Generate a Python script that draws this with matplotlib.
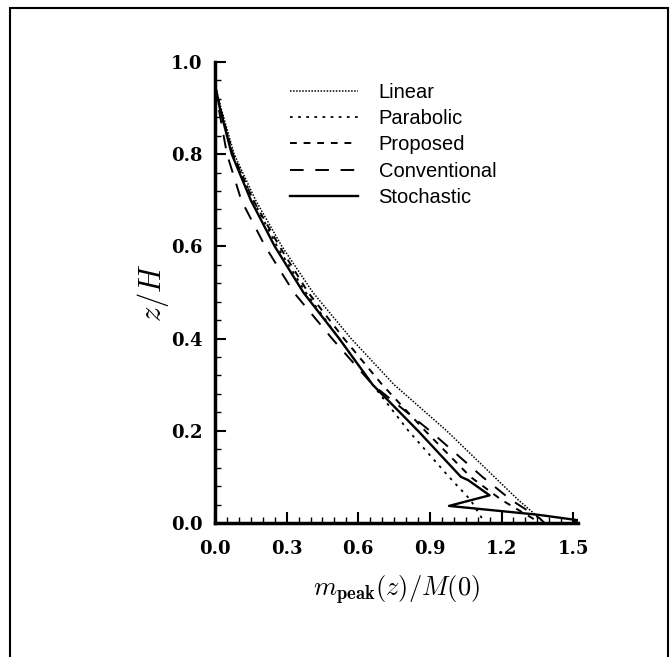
import numpy as np
import matplotlib
matplotlib.use("Agg")
import matplotlib.pyplot as plt
from matplotlib.ticker import MultipleLocator, FormatStrFormatter
from matplotlib.patches import Rectangle

plt.rcParams['mathtext.fontset'] = 'cm'

# curves: (m_peak/M(0), z/H)
linear_x = [0.0, 0.025, 0.08, 0.17, 0.28, 0.41, 0.57, 0.75, 0.97, 1.17, 1.27, 1.36, 1.38]
linear_z = [0.95, 0.90, 0.80, 0.70, 0.60, 0.50, 0.40, 0.30, 0.20, 0.10, 0.05, 0.01, 0.0]

parab_x = [0.0, 0.022, 0.075, 0.16, 0.26, 0.38, 0.52, 0.66, 0.81, 0.98, 1.07, 1.13]
parab_z = [0.95, 0.90, 0.80, 0.70, 0.60, 0.50, 0.40, 0.30, 0.20, 0.10, 0.05, 0.0]

prop_x = [0.0, 0.022, 0.075, 0.16, 0.27, 0.39, 0.54, 0.70, 0.88, 1.07, 1.20, 1.33, 1.36]
prop_z = [0.95, 0.90, 0.80, 0.70, 0.60, 0.50, 0.40, 0.30, 0.20, 0.10, 0.05, 0.01, 0.0]

conv_x = [0.0, 0.015, 0.05, 0.11, 0.21, 0.33, 0.49, 0.66, 0.90, 1.12, 1.24, 1.36, 1.38]
conv_z = [0.95, 0.90, 0.80, 0.70, 0.60, 0.50, 0.40, 0.30, 0.20, 0.10, 0.05, 0.01, 0.0]

stoch_x = [0.0, 0.02, 0.07, 0.15, 0.25, 0.37, 0.52, 0.66, 0.85, 1.03, 1.06, 1.15, 0.98, 1.35, 1.52, 1.50]
stoch_z = [0.95, 0.90, 0.80, 0.70, 0.60, 0.50, 0.40, 0.30, 0.20, 0.10, 0.093, 0.06, 0.037, 0.018, 0.006, 0.0]

labels = ['Linear', 'Parabolic', 'Proposed', 'Conventional', 'Stochastic']

fig = plt.figure(figsize=(6.72, 6.57), dpi=100)
ax = fig.add_axes([0.320, 0.204, 0.540, 0.7017])

ax.plot(linear_x, linear_z, color='black', lw=1.1, ls=(0, (1, 1)), label=labels[0])
ax.plot(parab_x, parab_z, color='black', lw=1.3, ls=(0, (1.5, 3)), label=labels[1])
ax.plot(prop_x, prop_z, color='black', lw=1.4, ls=(0, (3.5, 3.5)), label=labels[2])
ax.plot(conv_x, conv_z, color='black', lw=1.4, ls=(0, (7, 6)), label=labels[3])
ax.plot(stoch_x, stoch_z, color='black', lw=1.7, ls='-', label=labels[4])

ax.set_xlim(0, 1.52)
ax.set_ylim(0, 1.0)
for s in ['top', 'right']:
    ax.spines[s].set_visible(False)
for s in ['left', 'bottom']:
    ax.spines[s].set_linewidth(2.5)

ax.xaxis.set_major_locator(MultipleLocator(0.3))
ax.xaxis.set_minor_locator(MultipleLocator(0.05))
ax.yaxis.set_major_locator(MultipleLocator(0.2))
ax.yaxis.set_minor_locator(MultipleLocator(0.04))
ax.xaxis.set_major_formatter(FormatStrFormatter('%.1f'))
ax.yaxis.set_major_formatter(FormatStrFormatter('%.1f'))
ax.tick_params(which='major', direction='in', length=8, width=1.5, labelsize=13)
ax.tick_params(which='minor', direction='in', length=4, width=1.0)
ax.tick_params(axis='x', which='major', pad=12)
ax.tick_params(axis='y', which='major', pad=9)
for t in ax.get_xticklabels() + ax.get_yticklabels():
    t.set_fontfamily('DejaVu Serif')
    t.set_fontweight('bold')

ax.set_xlabel(r'$m_{\mathbf{peak}}(z)/M(0)$', fontsize=19)
ax.set_ylabel(r'$z/H$', fontsize=22)
ax.xaxis.set_label_coords(0.5, -0.108)
ax.yaxis.set_label_coords(-0.12, 0.5)

leg = ax.legend(loc='upper left', bbox_to_anchor=(290 / 672, (657 - 83) / 657),
                bbox_transform=fig.transFigure, frameon=False, borderpad=0,
                borderaxespad=0, handlelength=3.4, handletextpad=1.0,
                labelspacing=0.36, prop={'family': 'Liberation Sans', 'size': 14.5})

# frame around the whole figure
fig.patches.append(Rectangle((10 / 672, -0.01), 658 / 672, (657 - 8) / 657 + 0.01,
                             transform=fig.transFigure, fill=False,
                             edgecolor='black', lw=1.5))

fig.savefig('out.png', dpi=100)
